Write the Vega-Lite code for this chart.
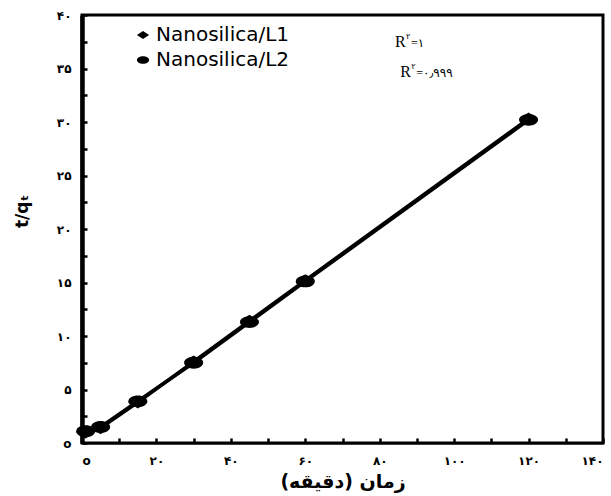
{
  "$schema": "https://vega.github.io/schema/vega-lite/v6.json",
  "width": 521,
  "height": 428,
  "autosize": "none",
  "padding": {"left": 82, "top": 15, "right": 8, "bottom": 53},
  "background": "white",
  "config": {"view": {"stroke": "black", "strokeWidth": 3}, "font": "DejaVu Sans"},
  "datasets": {
    "pts": [
      {"series": "Nanosilica/L1", "time": 1, "tq": 1.0},
      {"series": "Nanosilica/L1", "time": 5, "tq": 1.4},
      {"series": "Nanosilica/L1", "time": 15, "tq": 3.8},
      {"series": "Nanosilica/L1", "time": 30, "tq": 7.6},
      {"series": "Nanosilica/L1", "time": 45, "tq": 11.4},
      {"series": "Nanosilica/L1", "time": 60, "tq": 15.2},
      {"series": "Nanosilica/L1", "time": 120, "tq": 30.3},
      {"series": "Nanosilica/L2", "time": 1, "tq": 1.1},
      {"series": "Nanosilica/L2", "time": 5, "tq": 1.5},
      {"series": "Nanosilica/L2", "time": 15, "tq": 3.9},
      {"series": "Nanosilica/L2", "time": 30, "tq": 7.5},
      {"series": "Nanosilica/L2", "time": 45, "tq": 11.3},
      {"series": "Nanosilica/L2", "time": 60, "tq": 15.1},
      {"series": "Nanosilica/L2", "time": 120, "tq": 30.2}
    ],
    "ann": [
      {"time": 84.1, "tq": 37.5, "eq": "=۱"},
      {"time": 85.5, "tq": 34.7, "eq": "=۰٫۹۹۹"}
    ]
  },
  "encoding": {
    "x": {
      "field": "time", "type": "quantitative",
      "scale": {"domain": [0, 140], "nice": false, "zero": false},
      "axis": {
        "values": [0, 10, 20, 30, 40, 50, 60, 70, 80, 90, 100, 110, 120, 130, 140],
        "labelExpr": "datum.value % 20 != 0 ? '' : datum.value == 0 ? 'o' : replace(replace(replace(replace(replace(replace(datum.label, regexp('0','g'), '۰'), regexp('1','g'), '۱'), regexp('2','g'), '۲'), regexp('4','g'), '۴'), regexp('6','g'), '۶'), regexp('8','g'), '۸')",
        "grid": false, "tickSize": -5, "tickWidth": 2.5, "tickColor": "black",
        "domainColor": "black", "domainWidth": 2,
        "labelPadding": 17, "labelFontSize": 12, "labelFontWeight": "bold", "labelColor": "black",
        "labelFont": "DejaVu Sans",
        "title": "زمان (دقیقه)", "titleFontSize": 19, "titleFontWeight": "bold",
        "titleColor": "black", "titlePadding": 6, "titleFont": "DejaVu Sans"
      }
    },
    "y": {
      "field": "tq", "type": "quantitative",
      "scale": {"domain": [0, 40], "nice": false},
      "axis": {
        "values": [0, 2.5, 5, 7.5, 10, 12.5, 15, 17.5, 20, 22.5, 25, 27.5, 30, 32.5, 35, 37.5, 40],
        "labelExpr": "datum.value % 5 != 0 ? '' : datum.value == 0 ? 'o' : replace(replace(replace(replace(replace(replace(datum.label, regexp('0','g'), '۰'), regexp('1','g'), '۱'), regexp('2','g'), '۲'), regexp('3','g'), '۳'), regexp('4','g'), '۴'), regexp('5','g'), '۵')",
        "grid": false, "tickSize": -5, "tickWidth": 2.5, "tickColor": "black",
        "domainColor": "black", "domainWidth": 4.5,
        "labelPadding": 16, "labelFontSize": 12, "labelFontWeight": "bold", "labelColor": "black",
        "labelFont": "DejaVu Sans",
        "title": "t/qₜ", "titleFontSize": 17, "titleFontWeight": "bold",
        "titleColor": "black", "titlePadding": 25, "titleY": 196, "titleFont": "DejaVu Sans"
      }
    }
  },
  "layer": [
    {
      "data": {"name": "pts"},
      "mark": {"type": "line", "color": "black", "strokeWidth": 3.5},
      "encoding": {"detail": {"field": "series", "type": "nominal"}}
    },
    {
      "data": {"name": "pts"},
      "mark": {"type": "point", "filled": true, "color": "black", "opacity": 1, "size": 361},
      "encoding": {
        "shape": {
          "field": "series", "type": "nominal",
          "scale": {"domain": ["Nanosilica/L1", "Nanosilica/L2"], "range": ["M-1,0L0,-0.65L1,0L0,0.65Z", "M-1,0A1,0.62,0,1,0,1,0A1,0.62,0,1,0,-1,0Z"]},
          "legend": {
            "orient": "none", "legendX": 51, "legendY": 10, "title": null, "padding": 0,
            "labelFont": "DejaVu Sans", "labelFontSize": 20, "labelColor": "black",
            "symbolSize": 150, "symbolFillColor": "black", "symbolStrokeWidth": 0,
            "labelOffset": 3, "rowPadding": 5
          }
        }
      }
    },
    {
      "data": {"name": "ann"},
      "mark": {"type": "text", "text": "R", "align": "left", "baseline": "middle", "font": "Liberation Serif", "fontSize": 16, "color": "black"}
    },
    {
      "data": {"name": "ann"},
      "mark": {"type": "text", "text": "۲", "align": "left", "baseline": "middle", "dx": 11, "dy": -5, "font": "DejaVu Sans", "fontSize": 8, "color": "black"}
    },
    {
      "data": {"name": "ann"},
      "mark": {"type": "text", "align": "left", "baseline": "middle", "dx": 16, "dy": 1, "font": "Liberation Serif, DejaVu Sans", "fontSize": 12, "color": "black"},
      "encoding": {"text": {"field": "eq", "type": "nominal"}}
    }
  ]
}
